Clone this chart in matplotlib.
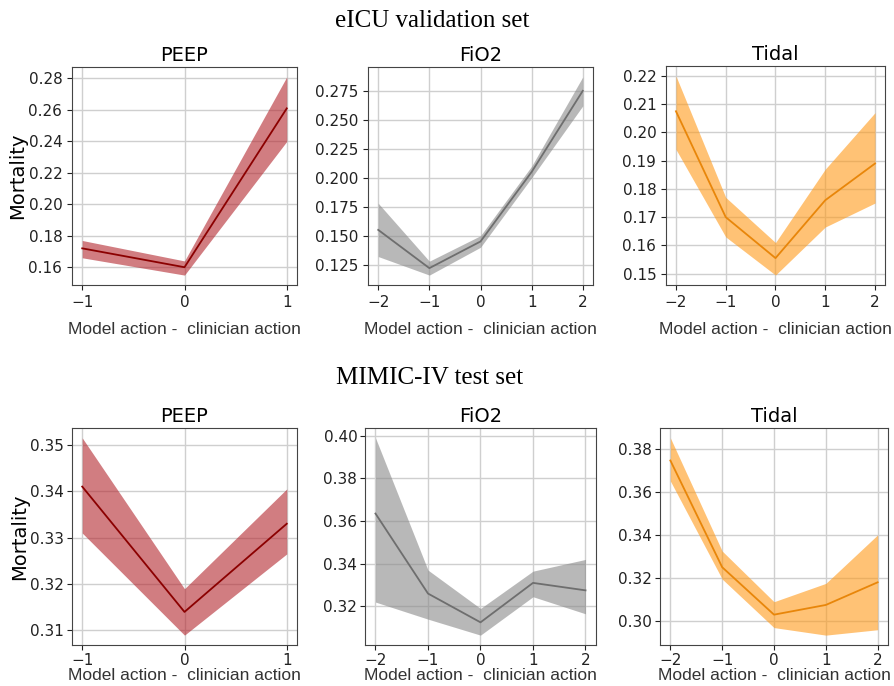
import matplotlib.pyplot as plt
import numpy as np

# x positions (model action - clinician action)
x_peep = [-1, 0, 1]
x_five = [-2, -1, 0, 1, 2]

# eICU validation set
eicu_peep_mean = [0.172, 0.160, 0.261]
eicu_peep_low = [0.166, 0.155, 0.240]
eicu_peep_high = [0.177, 0.164, 0.281]

eicu_fio2_mean = [0.155, 0.122, 0.145, 0.205, 0.275]
eicu_fio2_low = [0.132, 0.116, 0.140, 0.200, 0.262]
eicu_fio2_high = [0.178, 0.128, 0.150, 0.210, 0.287]

eicu_tidal_mean = [0.2075, 0.170, 0.1555, 0.176, 0.189]
eicu_tidal_low = [0.194, 0.163, 0.1495, 0.1665, 0.175]
eicu_tidal_high = [0.220, 0.177, 0.161, 0.187, 0.207]

# MIMIC-IV test set
mimic_peep_mean = [0.341, 0.314, 0.333]
mimic_peep_low = [0.331, 0.309, 0.3265]
mimic_peep_high = [0.3515, 0.319, 0.3405]

mimic_fio2_mean = [0.3635, 0.326, 0.3125, 0.331, 0.3275]
mimic_fio2_low = [0.322, 0.314, 0.3065, 0.3245, 0.3165]
mimic_fio2_high = [0.399, 0.337, 0.319, 0.3365, 0.342]

mimic_tidal_mean = [0.3745, 0.325, 0.303, 0.3075, 0.318]
mimic_tidal_low = [0.365, 0.3195, 0.297, 0.2935, 0.296]
mimic_tidal_high = [0.385, 0.3325, 0.309, 0.3175, 0.340]

styles = {
    "PEEP": ("#8b0000", "#b3262e", 0.6),
    "FiO2": ("#6e6e6e", "#8a8a8a", 0.6),
    "Tidal": ("#e8860a", "#ff9a1a", 0.6),
}

fig = plt.figure(figsize=(8.95, 6.86), dpi=100)

W, H = 895, 686


def add_ax(left, top, right, bottom):
    return fig.add_axes([left / W, 1 - bottom / H, (right - left) / W, (bottom - top) / H])


panels = [
    (add_ax(72, 67, 297, 285), "PEEP", x_peep, eicu_peep_mean, eicu_peep_low, eicu_peep_high, [0.16, 0.18, 0.20, 0.22, 0.24, 0.26, 0.28], "%.2f"),
    (add_ax(368, 67, 593, 285), "FiO2", x_five, eicu_fio2_mean, eicu_fio2_low, eicu_fio2_high, [0.125, 0.150, 0.175, 0.200, 0.225, 0.250, 0.275], "%.3f"),
    (add_ax(666, 66, 885, 285), "Tidal", x_five, eicu_tidal_mean, eicu_tidal_low, eicu_tidal_high, [0.15, 0.16, 0.17, 0.18, 0.19, 0.20, 0.21, 0.22], "%.2f"),
    (add_ax(72, 428, 297, 645), "PEEP", x_peep, mimic_peep_mean, mimic_peep_low, mimic_peep_high, [0.31, 0.32, 0.33, 0.34, 0.35], "%.2f"),
    (add_ax(365, 428, 596, 645), "FiO2", x_five, mimic_fio2_mean, mimic_fio2_low, mimic_fio2_high, [0.32, 0.34, 0.36, 0.38, 0.40], "%.2f"),
    (add_ax(660, 428, 888, 645), "Tidal", x_five, mimic_tidal_mean, mimic_tidal_low, mimic_tidal_high, [0.30, 0.32, 0.34, 0.36, 0.38], "%.2f"),
]

for i, (ax, name, x, m, lo, hi, yt, fmt) in enumerate(panels):
    line_c, fill_c, a = styles[name]
    ax.set_axisbelow(True)
    ax.grid(True, color="#cfcfcf", linewidth=1.0)
    ax.fill_between(x, lo, hi, color=fill_c, alpha=a, linewidth=0)
    ax.plot(x, m, color=line_c, linewidth=1.3)
    ax.set_xticks(x)
    ax.set_yticks(yt)
    ax.set_yticklabels([fmt % v for v in yt])
    ax.tick_params(labelsize=11, colors="#222222", pad=2 if i >= 3 else 3.5)
    ax.set_title(name, fontsize=14, pad=4)
    ax.set_xlabel("Model action -  clinician action", fontsize=12.5,
                  family="Liberation Sans", color="#333333",
                  labelpad=9 if i < 3 else 0)
    for s in ax.spines.values():
        s.set_color("#444444")
    if name == "PEEP":
        ax.set_ylabel("Mortality", fontsize=14, labelpad=1)

fig.text(0.483, 0.97, "eICU validation set", ha="center", va="center",
         family="Liberation Serif", fontsize=18)
fig.text(0.48, 0.449, "MIMIC-IV test set", ha="center", va="center",
         family="Liberation Serif", fontsize=18)

fig.savefig("out.png", dpi=100, facecolor="white")
